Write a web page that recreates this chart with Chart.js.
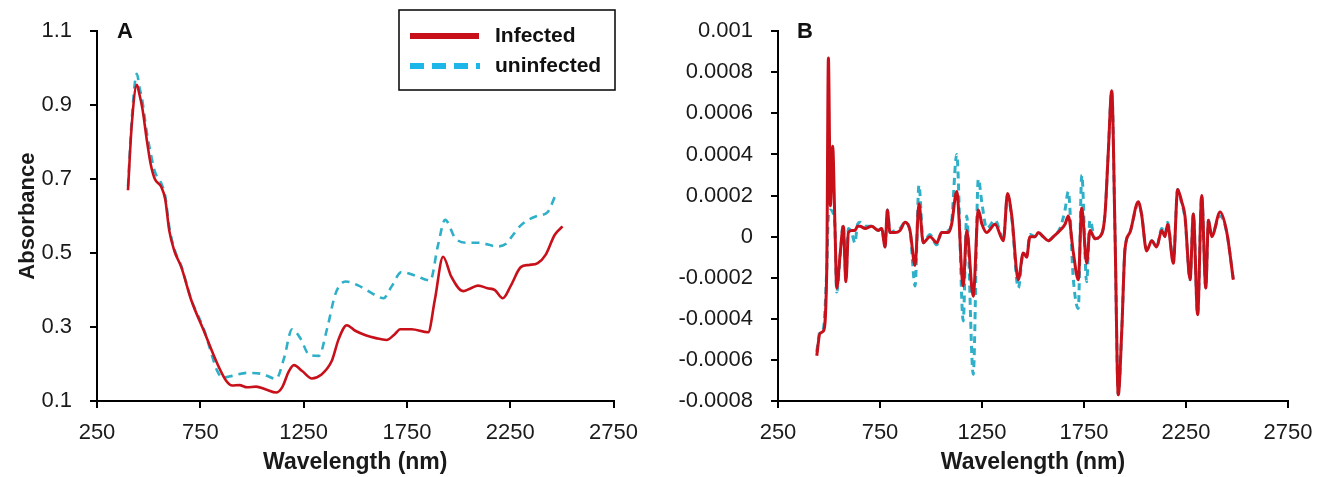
<!DOCTYPE html>
<html>
<head>
<meta charset="utf-8">
<script src="https://cdn.jsdelivr.net/npm/chart.js@4.4.1/dist/chart.umd.min.js"></script>
<style>
  html, body { margin: 0; padding: 0; background: #ffffff; }
  body { width: 1329px; height: 477px; position: relative; overflow: hidden; }
  .panel { position: absolute; top: 0; }
  #wrapA { left: 0; width: 650px; height: 477px; }
  #wrapB { left: 660px; width: 669px; height: 477px; }
</style>
</head>
<body>
<div class="panel" id="wrapA"><canvas id="chartA" width="650" height="477"></canvas></div>
<div class="panel" id="wrapB"><canvas id="chartB" width="669" height="477"></canvas></div>
<script>
// ---------------- DATA ----------------
const seriesNames = ['Infected', 'uninfected'];
const xTickValues = [250, 750, 1250, 1750, 2250, 2750];
const yTickValuesA = [0.1, 0.3, 0.5, 0.7, 0.9, 1.1];
const yTickValuesB = [-0.0008, -0.0006, -0.0004, -0.0002, 0, 0.0002, 0.0004, 0.0006, 0.0008, 0.001];

// Panel A: absorbance spectra
const wavelengthA_infected = [400, 418, 443, 455, 470, 490, 510, 530, 560, 580, 600, 625, 658, 706, 770, 833, 875, 905, 939, 977, 1020, 1068, 1117, 1146, 1179, 1203, 1243, 1290, 1333, 1386, 1420, 1459, 1500, 1550, 1600, 1651, 1690, 1718, 1772, 1853, 1885, 1925, 1965, 2022, 2060, 2094, 2140, 2176, 2214, 2253, 2301, 2340, 2383, 2422, 2465, 2503];
const absorbanceInfected = [0.67, 0.845, 0.955, 0.93, 0.89, 0.81, 0.74, 0.70, 0.68, 0.646, 0.56, 0.505, 0.462, 0.373, 0.286, 0.20, 0.155, 0.142, 0.143, 0.137, 0.139, 0.131, 0.123, 0.137, 0.181, 0.197, 0.181, 0.161, 0.17, 0.208, 0.268, 0.305, 0.29, 0.278, 0.27, 0.265, 0.28, 0.294, 0.294, 0.286, 0.373, 0.49, 0.436, 0.397, 0.405, 0.412, 0.405, 0.40, 0.378, 0.412, 0.462, 0.468, 0.473, 0.496, 0.549, 0.572];

const wavelengthA_uninfected = [400, 418, 443, 455, 470, 490, 510, 530, 560, 580, 600, 625, 658, 706, 770, 800, 833, 860, 905, 977, 1050, 1117, 1155, 1194, 1236, 1275, 1324, 1363, 1405, 1453, 1516, 1598, 1637, 1676, 1724, 1791, 1863, 1900, 1935, 1983, 2040, 2094, 2190, 2230, 2253, 2301, 2383, 2430, 2468];
const absorbanceUninfected = [0.68, 0.86, 0.985, 0.95, 0.91, 0.83, 0.77, 0.72, 0.69, 0.655, 0.57, 0.51, 0.465, 0.375, 0.29, 0.235, 0.18, 0.163, 0.168, 0.176, 0.173, 0.16, 0.215, 0.294, 0.268, 0.226, 0.222, 0.294, 0.391, 0.423, 0.412, 0.386, 0.378, 0.41, 0.449, 0.439, 0.426, 0.52, 0.59, 0.541, 0.528, 0.528, 0.518, 0.525, 0.541, 0.575, 0.601, 0.61, 0.655];

// Panel B: derivative spectra
const wavelengthB = [440, 456, 472, 489, 497, 507, 518, 529, 538, 555, 570, 583, 595, 611, 627, 640, 652, 677, 709, 742, 758, 775, 786, 799, 824, 848, 873, 897, 922, 941, 962, 995, 1028, 1052, 1085, 1101, 1126, 1158, 1175, 1207, 1232, 1250, 1273, 1314, 1355, 1375, 1396, 1428, 1452, 1469, 1485, 1510, 1526, 1550, 1575, 1600, 1632, 1657, 1673, 1698, 1722, 1739, 1763, 1779, 1804, 1828, 1853, 1869, 1886, 1902, 1918, 1935, 1951, 1975, 2016, 2032, 2057, 2082, 2106, 2131, 2147, 2160, 2188, 2209, 2229, 2245, 2270, 2286, 2307, 2327, 2347, 2360, 2376, 2417, 2450, 2482];
const derivInfected = [-0.00058, -0.00047, -0.00046, -0.00016, 0.00087, 0.00015, 0.00044, 0.00006, -0.00025, -0.00008, 0.00005, -0.00022, 0.00002, 0.00003, 0.00003, 0.00005, 0.00005, 0.00004, 0.00005, 0.00003, 0.00004, -0.00005, 0.00013, 0.00002, 0.00002, 0.00003, 0.00007, 0.00003, -0.00014, 0.00016, -0.00003, 0.0, -0.00003, 0.00002, 0.00002, 0.00006, 0.00022, -0.00024, 0.00003, -0.00029, 0.00013, 0.00006, 0.00002, 0.00006, -0.00002, 0.00021, 0.00010, -0.00021, -0.00008, -0.00010, 0.0, 0.0, 0.00002, 0.0, -0.00002, 0.0, 0.00003, 0.00006, 0.00010, -0.00008, -0.00021, 0.00014, -0.00013, 0.00003, -0.00001, 0.0, 0.00011, 0.00041, 0.00071, 0.00002, -0.00077, -0.00046, -0.00006, 0.00002, 0.00017, 0.00011, -0.00007, -0.00002, -0.00005, 0.00003, 0.0, 0.00006, -0.00013, 0.00023, 0.00017, 0.00010, -0.00021, 0.00011, -0.00038, 0.00020, -0.00025, 0.00008, 0.0, 0.00012, 0.00002, -0.00021];
const derivUninfected = [-0.00056, -0.00046, -0.00045, -0.00016, 0.00010, 0.00013, 0.00012, 0.00005, -0.00027, -0.00009, 0.00006, -0.00020, 0.00004, 0.00002, -0.00003, 0.00006, 0.00007, 0.00005, 0.00005, 0.00003, 0.00004, -0.00005, 0.00013, 0.00002, 0.00003, 0.00004, 0.00007, 0.00003, -0.00024, 0.00025, -0.00003, 0.00001, -0.00004, 0.00002, 0.00003, 0.00007, 0.00040, -0.00041, 0.00010, -0.00067, 0.00028, 0.00016, 0.00004, 0.00008, -0.00001, 0.00020, 0.00009, -0.00025, -0.00008, -0.00009, 0.00001, 0.0, 0.00002, 0.0, -0.00002, 0.0, 0.00004, 0.00013, 0.00022, -0.00021, -0.00035, 0.00030, -0.00022, 0.00008, -0.00001, 0.0, 0.00011, 0.00041, 0.00071, 0.00002, -0.00077, -0.00046, -0.00006, 0.00002, 0.00016, 0.00011, -0.00006, -0.00002, -0.00005, 0.00004, 0.00001, 0.00007, -0.00012, 0.00023, 0.00016, 0.00009, -0.00021, 0.00011, -0.00038, 0.00020, -0.00025, 0.00008, 0.00001, 0.00010, 0.00002, -0.00021];

// ---------------- STYLE ----------------
const RED = '#c8101a';
const CYAN_LINE = '#2fb0c8';
const CYAN_LEGEND = '#1cb6e8';
const FONT = '"Liberation Sans", Arial, sans-serif';

function toXY(xs, ys) { return xs.map((x, i) => ({ x: x, y: ys[i] })); }

function xScale(titleText) {
  return {
    type: 'linear',
    min: xTickValues[0],
    max: xTickValues[xTickValues.length - 1],
    afterBuildTicks: (s) => { s.ticks = xTickValues.map(v => ({ value: v })); },
    afterFit: (s) => { s.height = 76; },
    border: { display: true, color: '#000', width: 2 },
    grid: { display: true, drawOnChartArea: false, drawTicks: true, tickLength: 7, color: '#000', lineWidth: 2 },
    ticks: { color: '#1a1a1a', font: { family: FONT, size: 22 }, padding: 12, maxRotation: 0, autoSkip: false,
      callback: (v) => String(v) },
    title: { display: true, text: titleText, color: '#1a1a1a', font: { family: FONT, size: 23, weight: 'bold' },
      padding: { top: 0, bottom: 1 } }
  };
}

function panelLetter(letter, x, y) {
  return {
    id: 'letter' + letter,
    afterDraw(chart) {
      const ctx = chart.ctx;
      ctx.save();
      ctx.fillStyle = '#111';
      ctx.font = 'bold 22px ' + FONT;
      ctx.textAlign = 'center';
      ctx.textBaseline = 'middle';
      ctx.fillText(letter, x, y);
      ctx.restore();
    }
  };
}

const legendBox = {
  id: 'legendBox',
  afterDraw(chart) {
    const ctx = chart.ctx;
    ctx.save();
    ctx.fillStyle = '#fff';
    ctx.fillRect(399, 10, 216, 80);
    ctx.strokeStyle = '#111';
    ctx.lineWidth = 1.6;
    ctx.strokeRect(399, 10, 216, 80);
    ctx.strokeStyle = RED; ctx.lineWidth = 6; ctx.setLineDash([]);
    ctx.beginPath(); ctx.moveTo(410, 36); ctx.lineTo(479, 36); ctx.stroke();
    ctx.strokeStyle = CYAN_LEGEND; ctx.setLineDash([14, 8]);
    ctx.beginPath(); ctx.moveTo(410, 66); ctx.lineTo(480, 66); ctx.stroke();
    ctx.setLineDash([]);
    ctx.fillStyle = '#111';
    ctx.font = 'bold 21px ' + FONT;
    ctx.textAlign = 'left'; ctx.textBaseline = 'middle';
    ctx.fillText(seriesNames[0], 495, 36);
    ctx.fillText(seriesNames[1], 495, 66);
    ctx.restore();
  }
};

// ---------------- CHART A ----------------
new Chart(document.getElementById('chartA'), {
  type: 'line',
  data: {
    datasets: [
      { label: seriesNames[0], data: toXY(wavelengthA_infected, absorbanceInfected), borderColor: RED, borderWidth: 2.6,
        pointRadius: 0, fill: false, cubicInterpolationMode: 'monotone' },
      { label: seriesNames[1], data: toXY(wavelengthA_uninfected, absorbanceUninfected), borderColor: CYAN_LINE, borderWidth: 2.6,
        borderDash: [8, 6], pointRadius: 0, fill: false, cubicInterpolationMode: 'monotone' }
    ]
  },
  options: {
    responsive: false, animation: false, devicePixelRatio: 1,
    layout: { padding: { left: 0, right: 34, top: 20, bottom: 0 } },
    plugins: { legend: { display: false }, tooltip: { enabled: false } },
    scales: {
      x: xScale('Wavelength (nm)'),
      y: {
        type: 'linear', min: 0.1, max: 1.1,
        afterBuildTicks: (s) => { s.ticks = yTickValuesA.map(v => ({ value: v })); },
        afterFit: (s) => { s.width = 97; },
        border: { display: true, color: '#000', width: 2 },
        grid: { display: true, drawOnChartArea: false, drawTicks: true, tickLength: 7, color: '#000', lineWidth: 2 },
        ticks: { color: '#1a1a1a', font: { family: FONT, size: 22 }, padding: 18,
          callback: (v) => String(Number(v.toFixed(1))) },
        title: { display: true, text: 'Absorbance', color: '#1a1a1a', font: { family: FONT, size: 22, weight: 'bold' },
          padding: { top: 15, bottom: 0 } }
      }
    }
  },
  plugins: [panelLetter('A', 125, 32), legendBox]
});

// ---------------- CHART B ----------------
new Chart(document.getElementById('chartB'), {
  type: 'line',
  data: {
    datasets: [
      { label: seriesNames[0], data: toXY(wavelengthB, derivInfected), borderColor: RED, borderWidth: 3,
        pointRadius: 0, fill: false, cubicInterpolationMode: 'monotone' },
      { label: seriesNames[1], data: toXY(wavelengthB, derivUninfected), borderColor: CYAN_LINE, borderWidth: 3,
        borderDash: [7, 5], pointRadius: 0, fill: false, cubicInterpolationMode: 'monotone' }
    ]
  },
  options: {
    responsive: false, animation: false, devicePixelRatio: 1,
    layout: { padding: { left: 0, right: 41, top: 20, bottom: 0 } },
    plugins: { legend: { display: false }, tooltip: { enabled: false } },
    scales: {
      x: xScale('Wavelength (nm)'),
      y: {
        type: 'linear', min: -0.0008, max: 0.001,
        afterBuildTicks: (s) => { s.ticks = yTickValuesB.map(v => ({ value: v })); },
        afterFit: (s) => { s.width = 118; },
        border: { display: true, color: '#000', width: 2 },
        grid: { display: true, drawOnChartArea: false, drawTicks: true, tickLength: 7, color: '#000', lineWidth: 2 },
        ticks: { color: '#1a1a1a', font: { family: FONT, size: 22 }, padding: 18,
          callback: (v) => String(Number(v.toFixed(4))) }
      }
    }
  },
  plugins: [panelLetter('B', 145, 32)]
});
</script>
</body>
</html>
